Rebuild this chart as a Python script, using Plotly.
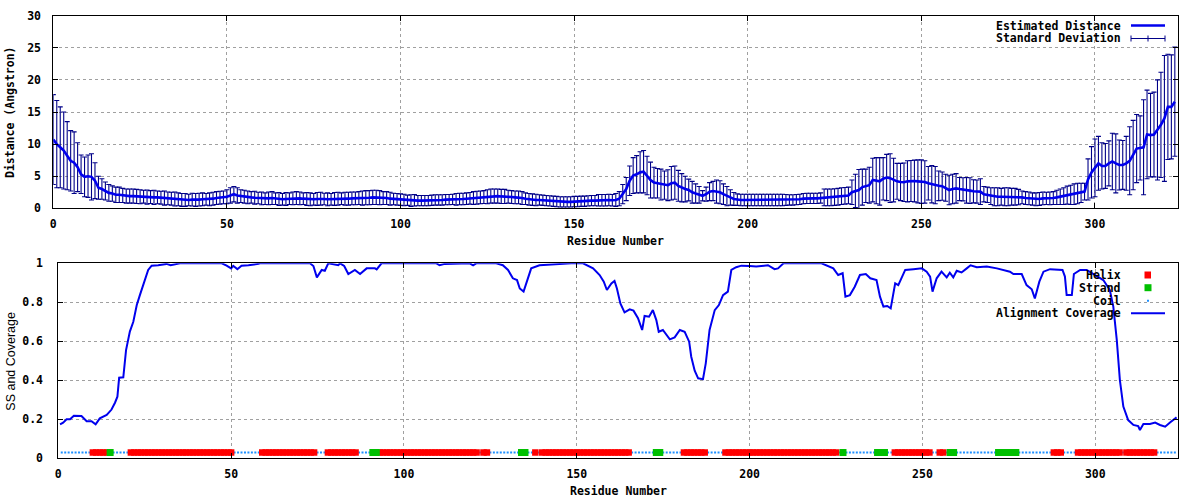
import plotly.graph_objects as go

# ---------------- data ----------------
residues = list(range(0, 324))

distance = [
    10.7, 10.0, 9.5, 9.0, 8.2, 7.4, 7.1, 6.4, 5.3, 4.9,
    5.0, 4.9, 4.3, 3.2, 3.0, 2.7, 2.4, 2.3, 2.1, 2.1,
    2.0, 1.9, 1.9, 1.9, 1.85, 1.8, 1.8, 1.75, 1.75, 1.7,
    1.7, 1.65, 1.6, 1.55, 1.5, 1.45, 1.4, 1.3, 1.3, 1.3,
    1.35, 1.3, 1.35, 1.4, 1.4, 1.4, 1.5, 1.6, 1.65, 1.7,
    1.8, 2.0, 2.2, 2.0, 1.9, 1.8, 1.7, 1.7, 1.65, 1.6,
    1.55, 1.5, 1.55, 1.6, 1.5, 1.45, 1.4, 1.45, 1.5, 1.55,
    1.6, 1.55, 1.5, 1.45, 1.4, 1.4, 1.45, 1.5, 1.45, 1.4,
    1.4, 1.45, 1.5, 1.5, 1.5, 1.5, 1.55, 1.55, 1.6, 1.6,
    1.65, 1.65, 1.7, 1.7, 1.65, 1.6, 1.6, 1.5, 1.45, 1.4,
    1.35, 1.3, 1.25, 1.2, 1.25, 1.2, 1.2, 1.2, 1.2, 1.25,
    1.3, 1.3, 1.3, 1.35, 1.35, 1.4, 1.4, 1.45, 1.45, 1.5,
    1.55, 1.6, 1.65, 1.7, 1.75, 1.8, 1.9, 1.9, 1.9, 1.85,
    1.85, 1.8, 1.75, 1.7, 1.7, 1.6, 1.5, 1.4, 1.35, 1.3,
    1.3, 1.25, 1.2, 1.15, 1.1, 1.05, 1.0, 1.0, 1.0, 1.0,
    1.05, 1.05, 1.1, 1.1, 1.15, 1.2, 1.2, 1.25, 1.25, 1.25,
    1.3, 1.25, 1.3, 1.5, 2.2, 3.0, 4.3, 5.1, 5.3, 5.6,
    5.7, 5.1, 4.4, 4.0, 3.9, 3.7, 3.6, 3.6, 3.9, 4.0,
    3.5, 3.2, 3.0, 2.85, 2.5, 2.3, 2.1, 1.95, 2.2, 2.6,
    2.7, 2.6, 2.5, 2.2, 1.9, 1.7, 1.45, 1.35, 1.3, 1.3,
    1.3, 1.3, 1.3, 1.3, 1.3, 1.3, 1.3, 1.3, 1.3, 1.3,
    1.3, 1.3, 1.3, 1.3, 1.35, 1.4, 1.5, 1.55, 1.55, 1.55,
    1.55, 1.6, 1.7, 1.7, 1.7, 1.75, 1.8, 1.9, 1.95, 2.0,
    2.5, 2.7, 2.85, 3.3, 3.5, 3.6, 4.4, 4.3, 4.2, 4.6,
    4.8, 4.7, 4.4, 4.2, 4.1, 4.05, 4.2, 4.25, 4.25, 4.2,
    4.15, 4.1, 3.9, 3.75, 3.6, 3.5, 3.45, 3.2, 2.85, 3.0,
    3.1, 3.0, 2.95, 2.8, 2.75, 2.65, 2.6, 2.6, 2.2, 2.1,
    1.9, 1.8, 1.8, 1.8, 1.8, 1.8, 1.8, 1.8, 1.75, 1.7,
    1.6, 1.55, 1.45, 1.4, 1.45, 1.55, 1.55, 1.55, 1.6, 1.7,
    1.8, 1.9, 2.05, 2.1, 2.2, 2.3, 2.4, 2.6, 4.5, 5.6,
    6.3, 7.0, 6.6, 6.6, 7.0, 7.3, 7.0, 6.75, 6.75, 7.0,
    7.4, 8.3, 9.3, 9.4, 9.5, 11.5, 11.4, 11.5, 12.2, 13.0,
    14.0, 15.8, 15.8, 16.6,
]

std_dev = [
    7.0, 6.8, 6.3, 6.0, 5.3, 4.7, 4.8, 3.8, 3.0, 3.1,
    3.3, 3.6, 2.8, 1.8, 1.6, 1.4, 1.3, 1.2, 1.2, 1.2,
    1.1, 1.1, 1.1, 1.1, 1.1, 1.1, 1.0, 1.1, 1.0, 1.1,
    1.0, 1.0, 1.1, 1.0, 1.0, 1.1, 1.0, 1.0, 1.0, 0.9,
    1.0, 1.0, 1.0, 1.0, 0.9, 1.0, 1.0, 1.0, 1.0, 1.0,
    1.1, 1.2, 1.2, 1.2, 1.0, 1.0, 1.0, 0.9, 1.0, 0.9,
    1.0, 0.9, 1.0, 1.0, 0.9, 1.0, 0.9, 1.0, 0.9, 1.0,
    1.0, 1.0, 0.9, 1.0, 1.0, 0.9, 1.0, 1.0, 0.9, 1.0,
    0.9, 1.0, 1.0, 0.9, 1.0, 1.0, 1.0, 1.0, 1.0, 1.1,
    1.1, 1.1, 1.1, 1.1, 1.1, 1.0, 1.0, 1.0, 0.9, 0.9,
    0.9, 0.9, 0.8, 0.9, 0.9, 0.8, 0.8, 0.8, 0.8, 0.8,
    0.8, 0.8, 0.8, 0.8, 0.8, 0.8, 0.9, 0.9, 0.9, 0.9,
    0.9, 1.0, 1.0, 1.0, 1.0, 1.1, 1.1, 1.1, 1.1, 1.1,
    1.1, 1.0, 1.0, 1.0, 1.0, 1.0, 0.9, 0.9, 0.9, 0.9,
    0.8, 0.8, 0.8, 0.8, 0.8, 0.8, 0.8, 0.8, 0.8, 0.8,
    0.8, 0.8, 0.8, 0.8, 0.8, 0.8, 0.8, 0.9, 0.9, 0.9,
    0.9, 0.9, 1.0, 1.1, 1.5, 1.8, 2.3, 2.8, 2.9, 3.2,
    3.3, 3.0, 2.8, 2.4, 2.3, 2.4, 2.2, 2.4, 2.6, 2.6,
    2.4, 2.2, 2.0, 1.7, 1.7, 1.5, 1.3, 0.8, 1.1, 1.4,
    1.5, 1.8, 1.8, 1.6, 1.5, 1.2, 1.0, 0.9, 0.9, 0.9,
    0.9, 0.9, 0.9, 0.9, 0.9, 0.9, 0.9, 0.9, 0.9, 0.9,
    0.9, 0.85, 0.8, 0.8, 0.8, 0.8, 0.8, 0.8, 0.8, 0.8,
    0.8, 0.8, 1.3, 1.3, 1.3, 1.3, 1.3, 1.3, 1.3, 1.3,
    1.9, 2.6, 3.2, 2.8, 2.6, 2.8, 3.4, 3.6, 3.7, 3.3,
    3.6, 3.8, 3.4, 2.8, 2.9, 3.0, 3.2, 3.2, 3.25, 3.35,
    3.4, 3.3, 2.6, 2.9, 2.9, 2.3, 2.2, 2.1, 2.3, 2.3,
    2.3, 1.8, 1.8, 2.0, 2.0, 1.8, 1.8, 2.0, 1.2, 1.2,
    1.3, 1.4, 1.4, 1.3, 1.4, 1.4, 1.3, 1.3, 1.2, 1.0,
    1.0, 1.0, 0.95, 1.0, 1.0, 1.0, 0.95, 1.0, 1.0, 1.1,
    1.2, 1.3, 1.4, 1.5, 1.6, 1.6, 1.5, 1.3, 3.2, 4.0,
    4.5, 4.2, 3.6, 3.5, 3.5, 4.4, 4.6, 3.9, 3.8, 4.2,
    5.3, 5.4, 5.3, 5.0, 7.4, 6.9, 6.5, 6.6, 7.8, 8.2,
    9.8, 8.2, 8.1, 8.5,
]

coverage_x = [
    0.5, 1.4, 2.4, 3.4, 4.5, 6.7, 8.2, 9.6, 10.8, 12, 14, 15.4, 16.4, 17.1,
    17.6, 18.8, 19.6, 20.7, 21.7, 22.7, 23.6, 24.8, 26, 27, 28.9, 31.3, 32.5,
    35.2, 47.3, 48.7, 50, 50.6, 51.8, 53, 55, 57.9, 58.3, 72.8, 73.8, 74.8,
    76.2, 77.1, 78.1, 81, 81.5, 82.7, 83.9, 85.8, 87.3, 89.2, 91.6, 92.1,
    93.5, 109.4, 110.3, 111.8, 119, 120, 120.9, 126.7, 128.6, 130.1, 131.5,
    132.7, 133.5, 134.6, 135.4, 136.8, 139.2, 145.5, 148.4, 151.8, 154.7,
    156.6, 157.8, 158.7, 160, 160.9, 161.6, 162.6, 163.8, 165.3, 166.4,
    167.7, 168.4, 168.9, 169.6, 170.9, 172, 173, 173.7, 174.9, 176.9, 178.3,
    179.8, 181.2, 182.5, 183.1, 184.1, 185.1, 186.5, 187.3, 188.4, 189.9,
    191.1, 192.3, 193.7, 194.7, 196.1, 197.6, 200, 201.9, 205.3, 207.2,
    208.2, 209.8, 220.8, 222.3, 224.2, 225.6, 226.9, 227.7, 229, 230.4,
    231.9, 233.6, 234.9, 236.7, 237.7, 238.7, 239.8, 240.8, 242.1, 243, 245,
    247.4, 249.8, 251.2, 252.2, 252.9, 254.1, 255.5, 257, 257.9, 258.9,
    259.9, 261.3, 262.8, 263.9, 265.7, 268.6, 271.5, 275.3, 276.3, 278.7,
    280.1, 281.6, 282.5, 283.8, 285, 286.9, 290.5, 291.2, 291.7, 293.2,
    293.8, 295.6, 297.5, 299.9, 302.3, 304.2, 305.2, 306.2, 307.1, 308.1,
    309.5, 311, 312.4, 312.9, 313.9, 315.8, 317.3, 318.7, 320.2, 321.6, 323.5,
]
coverage_y = [
    0.174, 0.183, 0.2, 0.2, 0.218, 0.217, 0.19, 0.19, 0.174, 0.205, 0.222,
    0.25, 0.285, 0.316, 0.413, 0.415, 0.555, 0.65, 0.70, 0.786, 0.837, 0.897,
    0.966, 0.988, 0.99, 0.997, 0.99, 1.0, 1.0, 0.988, 0.974, 0.987, 0.97,
    0.988, 0.99, 0.997, 1.0, 1.0, 0.986, 0.928, 0.966, 0.962, 1.0, 0.99, 1.0,
    0.986, 0.945, 0.966, 0.945, 0.974, 0.974, 0.969, 1.0, 1.0, 0.99, 0.997,
    1.0, 0.99, 1.0, 1.0, 0.99, 0.966, 0.923, 0.914, 0.871, 0.855, 0.897,
    0.974, 0.99, 0.997, 1.0, 1.0, 0.974, 0.94, 0.906, 0.863, 0.897, 0.91,
    0.871, 0.794, 0.748, 0.764, 0.757, 0.718, 0.683, 0.658, 0.73, 0.726,
    0.76, 0.709, 0.649, 0.658, 0.61, 0.62, 0.658, 0.649, 0.598, 0.521, 0.449,
    0.41, 0.406, 0.487, 0.658, 0.76, 0.786, 0.837, 0.855, 0.966, 0.98, 0.988,
    0.986, 0.983, 0.99, 0.97, 0.974, 1.0, 1.0, 0.99, 0.974, 0.94, 0.949,
    0.829, 0.837, 0.88, 0.94, 0.945, 0.923, 0.914, 0.829, 0.778, 0.781,
    0.769, 0.897, 0.888, 0.966, 0.97, 0.974, 0.957, 0.932, 0.855, 0.923,
    0.957, 0.928, 0.952, 0.928, 0.962, 0.953, 0.974, 0.99, 0.98, 0.983,
    0.974, 0.957, 0.945, 0.945, 0.888, 0.867, 0.82, 0.906, 0.957, 0.97,
    0.966, 0.932, 0.837, 0.837, 0.945, 0.966, 0.966, 0.94, 0.914, 0.863,
    0.778, 0.607, 0.401, 0.265, 0.196, 0.171, 0.165, 0.145, 0.176, 0.176,
    0.183, 0.171, 0.162, 0.184, 0.21,
]

# secondary structure, run-length encoded from residue 1: (type, length)
ss_runs = [
    ("C", 9), ("H", 5), ("E", 1), ("C", 5), ("H", 30), ("C", 8), ("H", 16),
    ("C", 3), ("H", 9), ("C", 4), ("E", 2), ("H", 29), ("C", 1), ("H", 2),
    ("C", 9), ("E", 2), ("C", 2), ("H", 1), ("C", 1), ("H", 26), ("C", 7),
    ("E", 2), ("C", 6), ("H", 7), ("C", 5), ("H", 33), ("C", 1), ("E", 1),
    ("C", 9), ("E", 3), ("C", 2), ("H", 11), ("C", 2), ("H", 2), ("C", 1),
    ("E", 2), ("C", 12), ("E", 6), ("C", 10), ("H", 3), ("C", 4), ("H", 13),
    ("C", 1), ("H", 9), ("C", 6),
]
ss_level = 0.03

x_ticks = [0, 50, 100, 150, 200, 250, 300]
top_y_ticks = [0, 5, 10, 15, 20, 25, 30]
bot_y_ticks = [0, 0.2, 0.4, 0.6, 0.8, 1]
bot_y_labels = ["0", "0.2", "0.4", "0.6", "0.8", "1"]

# expand SS runs into residue lists
helix_x, strand_x, coil_x = [], [], []
r = 1
for kind, n in ss_runs:
    for _ in range(n):
        {"H": helix_x, "E": strand_x, "C": coil_x}[kind].append(r)
        r += 1

# ---------------- figure ----------------
W, H = 1200, 500
FONT = "DejaVu Sans Mono"
BLUE = "#0000ee"
NAVY = "#000088"
GRID = "#a0a0a0"


def px(x):
    return x / W


def py(y):
    return 1 - y / H


fig = go.Figure()

fig.add_trace(go.Scatter(
    x=residues, y=distance, mode="markers",
    marker=dict(size=1, color="rgba(0,0,0,0)"),
    error_y=dict(type="data", array=std_dev, symmetric=True,
                 color=NAVY, thickness=1.1, width=2.5),
    xaxis="x", yaxis="y", showlegend=False, hoverinfo="skip"))
fig.add_trace(go.Scatter(
    x=residues, y=distance, mode="lines",
    line=dict(color=BLUE, width=2.6),
    xaxis="x", yaxis="y", showlegend=False))

fig.add_trace(go.Scatter(
    x=coil_x, y=[ss_level] * len(coil_x), mode="markers",
    marker=dict(size=2, color="#1e90ff", symbol="square"),
    xaxis="x2", yaxis="y2", showlegend=False))
fig.add_trace(go.Scatter(
    x=helix_x, y=[ss_level] * len(helix_x), mode="markers",
    marker=dict(size=6.5, color="#ff0000", symbol="square"),
    xaxis="x2", yaxis="y2", showlegend=False))
fig.add_trace(go.Scatter(
    x=strand_x, y=[ss_level] * len(strand_x), mode="markers",
    marker=dict(size=7, color="#00c000", symbol="square"),
    xaxis="x2", yaxis="y2", showlegend=False))
fig.add_trace(go.Scatter(
    x=coverage_x, y=coverage_y, mode="lines",
    line=dict(color=BLUE, width=2),
    xaxis="x2", yaxis="y2", showlegend=False))

tickfont = dict(family=FONT, size=11.5, color="black", weight="bold")
common_axis = dict(
    showline=True, linecolor="black", linewidth=1, mirror="allticks",
    ticks="inside", ticklen=5, tickcolor="black", tickwidth=1,
    showgrid=True, gridcolor=GRID, griddash="3px,3px", gridwidth=1,
    zeroline=False, tickfont=tickfont, fixedrange=True, automargin=False,
)

fig.update_layout(
    width=W, height=H,
    margin=dict(l=0, r=0, t=0, b=0, pad=0),
    paper_bgcolor="white", plot_bgcolor="white",
    showlegend=False,
    xaxis=dict(domain=[px(53.3), px(1178.3)], range=[0, 324], anchor="y",
               tickvals=x_ticks, ticklabelstandoff=5, **common_axis),
    yaxis=dict(domain=[py(208.3), py(15.7)], range=[0, 30], anchor="x",
               tickvals=top_y_ticks, ticklabelstandoff=9, **common_axis),
    xaxis2=dict(domain=[px(58.3), px(1178.3)], range=[0, 324], anchor="y2",
                tickvals=x_ticks, ticklabelstandoff=5, **common_axis),
    yaxis2=dict(domain=[py(458.3), py(263.3)], range=[0, 1], anchor="x2",
                tickvals=bot_y_ticks, ticktext=bot_y_labels,
                ticklabelstandoff=12, **common_axis),
)

bold = dict(family=FONT, size=11.5, color="black", weight="bold")
ann = [
    dict(text="Residue Number", x=px(615.8), y=py(240.7), font=bold),
    dict(text="Distance (Angstron)", x=px(10), y=py(112), textangle=-90, font=bold),
    dict(text="Residue Number", x=px(618.3), y=py(490.7), font=bold),
    dict(text="SS and Coverage", x=px(10.7), y=py(361), textangle=-90,
         font=dict(family="Liberation Sans", size=12.5, color="black")),
]
for a in ann:
    a.update(xref="paper", yref="paper", showarrow=False,
             xanchor="center", yanchor="middle")

legend_items = [
    ("Estimated Distance", 25.5),
    ("Standard Deviation", 38.5),
    ("Helix", 275),
    ("Strand", 287.7),
    ("Coil", 300.7),
    ("Alignment Coverage", 313.3),
]
for txt, yy in legend_items:
    ann.append(dict(text=txt, x=px(1123), y=py(yy), xref="paper", yref="paper",
                    showarrow=False, xanchor="right", yanchor="middle", font=bold))
fig.update_layout(annotations=ann)

shapes = []
L0, L1, LM = 1131, 1165, 1148
# Estimated distance sample
shapes.append(dict(type="line", xref="paper", yref="paper",
                   x0=px(L0), x1=px(L1), y0=py(25.5), y1=py(25.5),
                   line=dict(color=BLUE, width=2.6)))
# Standard deviation sample
shapes.append(dict(type="line", xref="paper", yref="paper",
                   x0=px(L0), x1=px(L1), y0=py(38.5), y1=py(38.5),
                   line=dict(color=NAVY, width=1)))
for xx in (L0, LM, L1):
    shapes.append(dict(type="line", xref="paper", yref="paper",
                       x0=px(xx), x1=px(xx), y0=py(35.5), y1=py(41.5),
                       line=dict(color=NAVY, width=1)))
# Helix / Strand / Coil samples
shapes.append(dict(type="rect", xref="paper", yref="paper",
                   x0=px(1144.5), x1=px(1151), y0=py(278.5), y1=py(271.5),
                   fillcolor="#ff0000", line=dict(width=0)))
shapes.append(dict(type="rect", xref="paper", yref="paper",
                   x0=px(1144.5), x1=px(1151.5), y0=py(291.2), y1=py(284.2),
                   fillcolor="#00c000", line=dict(width=0)))
shapes.append(dict(type="rect", xref="paper", yref="paper",
                   x0=px(1147), x1=px(1149), y0=py(301.7), y1=py(299.7),
                   fillcolor="#1e90ff", line=dict(width=0)))
shapes.append(dict(type="line", xref="paper", yref="paper",
                   x0=px(L0), x1=px(L1), y0=py(313.3), y1=py(313.3),
                   line=dict(color=BLUE, width=2)))
fig.update_layout(shapes=shapes)

fig.write_html(
    "out.html",
    config={"displayModeBar": False},
    post_script="document.body.style.margin='0';document.body.style.overflow='hidden';",
)
